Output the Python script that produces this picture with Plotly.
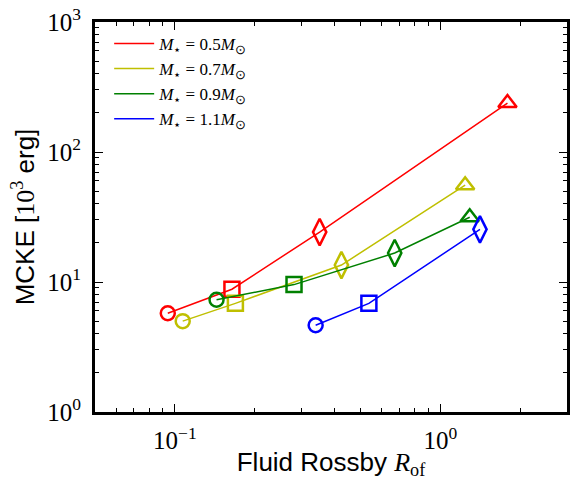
import plotly.graph_objects as go

labels = ["0.5", "0.7", "0.9", "1.1"]
colors = ["#FF0000", "#BFBF00", "#008000", "#0000FF"]

rof_05 = [0.094, 0.164, 0.351, 1.79]
mcke_05 = [5.75, 8.8, 24.2, 238]
rof_07 = [0.107, 0.169, 0.424, 1.24]
mcke_07 = [5.0, 6.85, 13.5, 55.5]
rof_09 = [0.1435, 0.281, 0.673, 1.29]
mcke_09 = [7.3, 9.55, 16.7, 31.5]
rof_11 = [0.339, 0.538, 1.41]
mcke_11 = [4.65, 6.85, 25.4]

symbols_4 = ["circle-open", "square-open", "diamond-tall-open", "triangle-up-open"]
symbols_11 = ["circle-open", "square-open", "diamond-tall-open"]

series = [
    (rof_05, mcke_05, symbols_4),
    (rof_07, mcke_07, symbols_4),
    (rof_09, mcke_09, symbols_4),
    (rof_11, mcke_11, symbols_11),
]

SERIF = "Liberation Serif"
SANS = "Liberation Sans"

fig = go.Figure()
for i, ((xs, ys, syms), lab, col) in enumerate(zip(series, labels, colors)):
    name = (f"<i>M</i><sub><span style='font-size:13px'>\u22c6</span></sub> = {lab}"
            f"<i>M</i><sub><span style='font-size:13px'>\u2299</span></sub>")
    fig.add_trace(go.Scatter(
        x=xs, y=ys, mode="lines", line=dict(color=col, width=1.5),
        name=name, legendgroup=f"g{i}", showlegend=True))
    sizes = [14 if s.startswith("circle") else 15 if s.startswith("square")
             else 19 if s.startswith("diamond") else 16 for s in syms]
    fig.add_trace(go.Scatter(
        x=xs, y=ys, mode="markers",
        marker=dict(symbol=syms, size=sizes, color=col, opacity=1,
                    line=dict(color=col, width=2.5)),
        showlegend=False, legendgroup=f"g{i}"))

axis_common = dict(
    type="log", showgrid=False, zeroline=False,
    showline=True, linecolor="black", linewidth=3, mirror="allticks",
    ticks="inside", ticklen=8, tickwidth=1, tickcolor="black",
    tickfont=dict(family=SERIF, size=25, color="black"),
    minor=dict(ticks="inside", ticklen=4, tickwidth=1, tickcolor="black",
               dtick="D1", showgrid=False),
)

fig.update_xaxes(
    **axis_common,
    range=[-1.30103, 0.4771],
    tickvals=[0.1, 1],
    ticktext=["10<sup>\u22121</sup>", "10<sup>0</sup>"],
    ticklabelstandoff=4,
    title=dict(text=f"Fluid Rossby <span style='font-family:{SERIF}'><i>R</i><sub>of</sub></span>",
               font=dict(family=SANS, size=26, color="black"), standoff=4),
)
fig.update_yaxes(
    **axis_common,
    range=[0, 3],
    tickvals=[1, 10, 100, 1000],
    ticktext=["10<sup>0</sup>", "10<sup>1</sup>", "10<sup>2</sup>", "10<sup>3</sup>"],
    ticklabelstandoff=6,
    title=dict(text=f"MCKE [<span style='font-family:{SERIF}'>10<sup>3</sup></span> erg]",
               font=dict(family=SANS, size=26, color="black"), standoff=6),
)

fig.update_layout(
    width=574, height=480,
    margin=dict(l=95, r=4, t=21, b=64),
    plot_bgcolor="white", paper_bgcolor="white",
    legend=dict(x=0.03, y=0.99, xanchor="left", yanchor="top",
                bgcolor="rgba(0,0,0,0)", borderwidth=0,
                font=dict(family=SERIF, size=17, color="black"),
                traceorder="grouped", tracegroupgap=0, itemwidth=40),
)

fig.write_html("out.html")
